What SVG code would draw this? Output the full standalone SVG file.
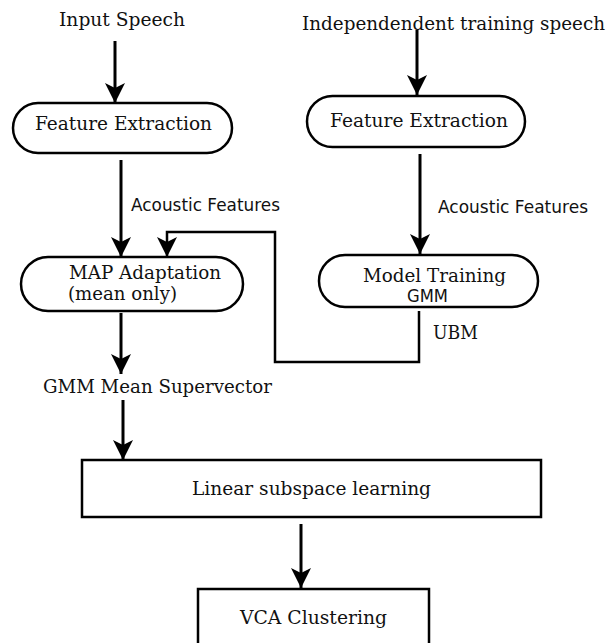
<svg xmlns="http://www.w3.org/2000/svg" width="608" height="643" viewBox="0 0 608 643">
<style>
.serif{font-family:"DejaVu Serif","Liberation Serif",serif;font-size:18px;fill:#111}
.sans{font-family:"DejaVu Sans","Liberation Sans",sans-serif;font-size:17.5px;fill:#111}
.sans2{font-family:"DejaVu Sans","Liberation Sans",sans-serif;font-size:17px;fill:#111}
.node{fill:#fff;stroke:#000;stroke-width:2.5}
.line{fill:none;stroke:#000;stroke-width:3}
.thin{fill:none;stroke:#000;stroke-width:2.5}
</style>
<defs>
<marker id="ah" markerUnits="userSpaceOnUse" markerWidth="22" markerHeight="22" refX="20" refY="10" orient="auto" viewBox="0 0 22 20">
<path d="M0,0 L20,10 L0,20 L5,10 Z" fill="#000"/>
</marker>
</defs>
<rect width="608" height="643" fill="#fff"/>
<g id="labels">
<text class="serif" x="59" y="26" textLength="126" lengthAdjust="spacingAndGlyphs">Input Speech</text>
<text class="serif" x="302" y="30" textLength="303" lengthAdjust="spacingAndGlyphs">Independendent training speech</text>
<text class="sans" x="131" y="211" textLength="149" lengthAdjust="spacingAndGlyphs">Acoustic Features</text>
<text class="sans" x="438" y="213" textLength="150" lengthAdjust="spacingAndGlyphs">Acoustic Features</text>
<text class="serif" x="433" y="339" textLength="45" lengthAdjust="spacingAndGlyphs">UBM</text>
<text class="serif" x="43" y="393" textLength="229" lengthAdjust="spacingAndGlyphs">GMM Mean Supervector</text>
</g>
<g id="connectors">
<line class="line" x1="115" y1="41" x2="115" y2="103" marker-end="url(#ah)"/>
<line class="line" x1="417" y1="30" x2="417" y2="95" marker-end="url(#ah)"/>
<line class="line" x1="121" y1="160" x2="121" y2="257" marker-end="url(#ah)"/>
<line class="line" x1="420" y1="154" x2="420" y2="254" marker-end="url(#ah)"/>
<polyline class="thin" points="419,311 419,362 275,362 275,232 167,232 167,257" marker-end="url(#ah)"/>
<line class="line" x1="121" y1="313" x2="121" y2="374" marker-end="url(#ah)"/>
<line class="line" x1="123" y1="400" x2="123" y2="460" marker-end="url(#ah)"/>
<line class="line" x1="301" y1="524" x2="301" y2="588" marker-end="url(#ah)"/>
</g>
<g id="fe-left">
<rect class="node" x="13" y="103" width="219" height="50" rx="25"/>
<text class="serif" x="35" y="130" textLength="177" lengthAdjust="spacingAndGlyphs">Feature Extraction</text>
</g>
<g id="fe-right">
<rect class="node" x="307" y="96" width="218" height="51" rx="25.5"/>
<text class="serif" x="330" y="127" textLength="178" lengthAdjust="spacingAndGlyphs">Feature Extraction</text>
</g>
<g id="map">
<rect class="node" x="21" y="257" width="222" height="54" rx="27"/>
<text class="serif" x="69" y="279" textLength="152" lengthAdjust="spacingAndGlyphs">MAP Adaptation</text>
<text class="serif" x="68" y="300" textLength="109" lengthAdjust="spacingAndGlyphs">(mean only)</text>
</g>
<g id="model">
<rect class="node" x="319" y="255" width="219" height="52" rx="26"/>
<text class="serif" x="363" y="282" textLength="143" lengthAdjust="spacingAndGlyphs">Model Training</text>
<text class="sans2" x="407" y="302" textLength="41" lengthAdjust="spacingAndGlyphs">GMM</text>
</g>
<g id="linear">
<rect class="node" x="82" y="460" width="459" height="57"/>
<text class="serif" x="192" y="495" textLength="239" lengthAdjust="spacingAndGlyphs">Linear subspace learning</text>
</g>
<g id="vca">
<rect class="node" x="198" y="589" width="231" height="70"/>
<text class="serif" x="240" y="624" textLength="147" lengthAdjust="spacingAndGlyphs">VCA Clustering</text>
</g>
</svg>
